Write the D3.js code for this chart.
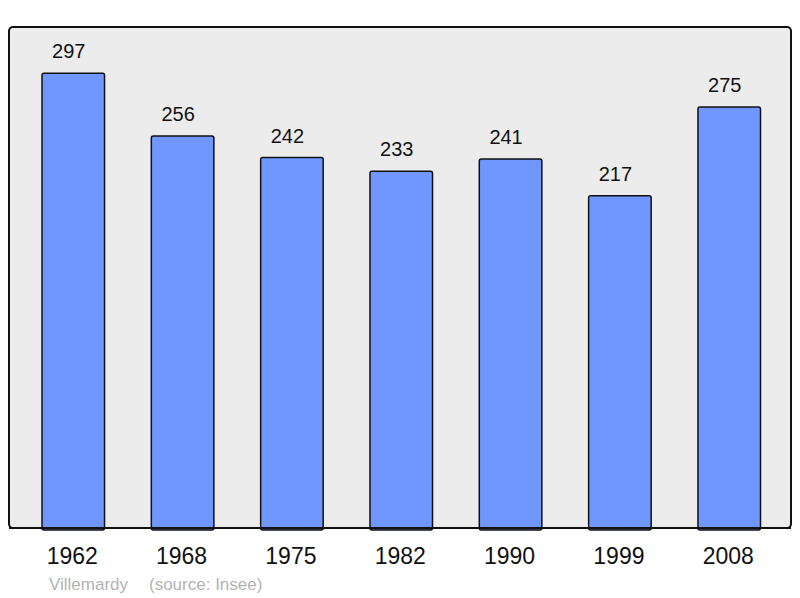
<!DOCTYPE html>
<html><head><meta charset="utf-8">
<script src="https://cdn.jsdelivr.net/npm/d3@7"></script>
<style>body{margin:0;background:#fff}svg{display:block}</style>
</head><body>
<svg id="c" width="800" height="598"></svg>
<script>
const years = ["1962","1968","1975","1982","1990","1999","2008"];
const population = [297,256,242,233,241,217,275];
const placeName = "Villemardy";
const sourceText = "(source: Insee)";

const svg = d3.select("#c");
const font = "'Liberation Sans', Arial, sans-serif";

svg.append("rect").attr("x",9).attr("y",27).attr("width",782).attr("height",501)
  .attr("rx",4).attr("fill","#ececec").attr("stroke","#111").attr("stroke-width",2);

const x = d3.scaleBand().domain(years).range([42,760.5]).paddingInner(0.428).paddingOuter(0);
const y = d3.scaleLinear().domain([0, d3.max(population)]).range([528, 73.3]);

const data = years.map((yr,i)=>({yr, v: population[i]}));

svg.selectAll("rect.bar").data(data).enter().append("rect").attr("class","bar")
  .attr("x",d=>x(d.yr)).attr("y",d=>y(d.v))
  .attr("width",x.bandwidth()).attr("height",d=>y(0)-y(d.v)+2)
  .attr("rx",2).attr("fill","#7097ff").attr("stroke","#111").attr("stroke-width",1.5);

svg.append("line").attr("x1",9).attr("x2",791).attr("y1",528).attr("y2",528)
  .attr("stroke","#111").attr("stroke-width",2);

svg.selectAll("text.val").data(data).enter().append("text").attr("class","val")
  .attr("x",d=>x(d.yr)+x.bandwidth()/2-4.5).attr("y",d=>y(d.v)-15)
  .attr("text-anchor","middle").attr("font-family",font).attr("font-size",20).attr("fill","#111")
  .text(d=>d.v);

svg.selectAll("text.yr").data(data).enter().append("text").attr("class","yr")
  .attr("x",d=>x(d.yr)+x.bandwidth()/2-1).attr("y",564)
  .attr("text-anchor","middle").attr("font-family",font).attr("font-size",23).attr("fill","#111")
  .text(d=>d.yr);

svg.append("text").attr("x",49).attr("y",589.5).attr("font-family",font).attr("font-size",17)
  .attr("fill","#b3b3b3").text(placeName);
svg.append("text").attr("x",149).attr("y",589.5).attr("font-family",font).attr("font-size",17)
  .attr("fill","#b3b3b3").text(sourceText);
</script>
</body></html>
